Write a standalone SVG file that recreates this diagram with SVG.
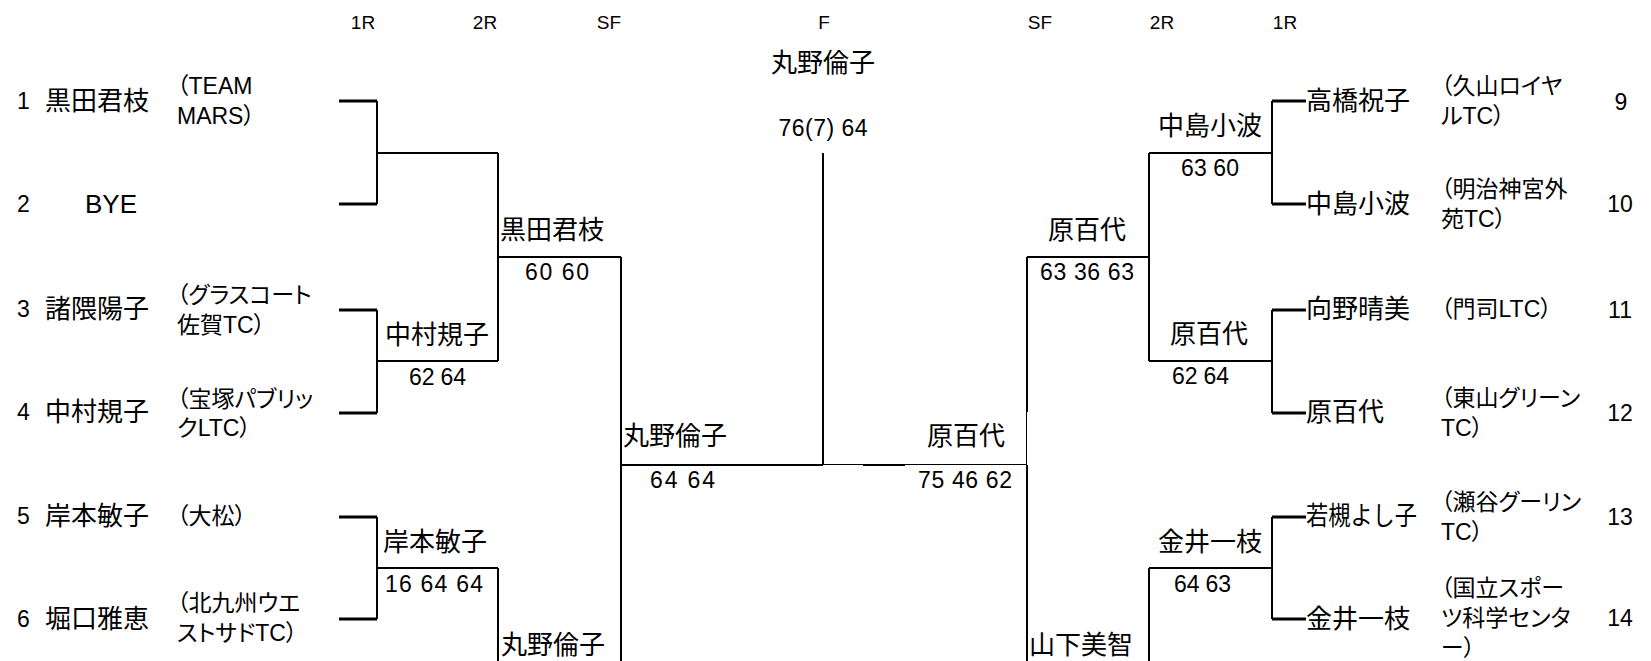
<svg xmlns="http://www.w3.org/2000/svg" width="1651" height="661" viewBox="0 0 1651 661">
<style>
text{font-family:"Liberation Sans","Noto Sans CJK JP",sans-serif;fill:#000;dominant-baseline:central}
.hdr{font-size:19px;text-anchor:middle}
.num{font-size:23px}
.numr{font-size:23px;text-anchor:middle}
.nm{font-size:26px}
.mid{text-anchor:middle}
.club{font-size:23px;font-feature-settings:"palt"}
.sc{font-size:23px}
.ln{stroke:#000;stroke-width:2;fill:none}
.stub{stroke:#000;stroke-width:3;fill:none}
.thin{stroke:#000;stroke-width:1;fill:none}
</style>
<rect width="1651" height="661" fill="#fff"/>
<g id="headers">
<text class="hdr" x="363" y="22">1R</text>
<text class="hdr" x="485" y="22">2R</text>
<text class="hdr" x="609" y="22">SF</text>
<text class="hdr" x="824" y="22">F</text>
<text class="hdr" x="1040" y="22">SF</text>
<text class="hdr" x="1162" y="22">2R</text>
<text class="hdr" x="1285" y="22">1R</text>
</g>
<g id="connectors">
<path class="stub" d="M339 101H377M339 204H377M339 310H377M339 413H377M339 517H377M339 619H377"/>
<path class="ln" d="M377 101V204M377 310V413M377 517V619M377 153H498M377 361H498M377 568H498M498 153V361M498 568V661M498 257H621M621 257V661M621 465H823"/>
<path class="ln" d="M823 153V465"/>
<path class="stub" d="M1272 101H1306M1272 204H1306M1272 310H1306M1272 413H1306M1272 517H1306M1272 619H1306"/>
<path class="ln" d="M1272 101V204M1272 310V413M1272 517V619M1149 153H1272M1149 361H1272M1149 568H1272M1149 153V361M1149 568V661M1027 257H1149M1027 257V412M1027 465V661"/>
<path class="thin" d="M1026.5 412V465M823 464.5H1027"/>
<path class="ln" d="M863 465H905"/>
</g>
<g id="final">
<text class="nm mid" x="823" y="63">丸野倫子</text>
<text class="sc mid" x="823" y="128" textLength="89" lengthAdjust="spacing">76(7) 64</text>
</g>
<g id="p1"><text class="num" x="17" y="101">1</text><text class="nm" x="45" y="101">黒田君枝</text><text class="club" x="177" y="86">（TEAM</text><text class="club" x="177" y="116">MARS）</text></g>
<g id="p2"><text class="num" x="17" y="204">2</text><text class="nm mid" x="111" y="204">BYE</text></g>
<g id="p3"><text class="num" x="17" y="309">3</text><text class="nm" x="45" y="309">諸隈陽子</text><text class="club" x="177" y="295">（グラスコート</text><text class="club" x="177" y="325">佐賀TC）</text></g>
<g id="p4"><text class="num" x="17" y="412">4</text><text class="nm" x="45" y="412">中村規子</text><text class="club" x="177" y="399">（宝塚パブリッ</text><text class="club" x="177" y="428">クLTC）</text></g>
<g id="p5"><text class="num" x="17" y="516">5</text><text class="nm" x="45" y="516">岸本敏子</text><text class="club" x="177" y="516">（大松）</text></g>
<g id="p6"><text class="num" x="17" y="619">6</text><text class="nm" x="45" y="619">堀口雅恵</text><text class="club" x="177" y="603">（北九州ウエ</text><text class="club" x="177" y="633">ストサドTC）</text></g>
<g id="m-l2r-1"><text class="nm" x="500" y="230">黒田君枝</text><text class="sc" x="525" y="272" textLength="64" lengthAdjust="spacing">60 60</text></g>
<g id="m-l1r-2"><text class="nm" x="385" y="335">中村規子</text><text class="sc" x="409" y="377" textLength="57" lengthAdjust="spacing">62 64</text></g>
<g id="m-l1r-3"><text class="nm" x="383" y="542">岸本敏子</text><text class="sc" x="385" y="584" textLength="98" lengthAdjust="spacing">16 64 64</text></g>
<g id="m-l2r-2"><text class="nm" x="501" y="645">丸野倫子</text></g>
<g id="m-lsf"><text class="nm" x="623" y="436">丸野倫子</text><text class="sc" x="650" y="480" textLength="65" lengthAdjust="spacing">64 64</text></g>
<g id="m-rsf"><text class="nm" x="927" y="436">原百代</text><text class="sc" x="918" y="480" textLength="94" lengthAdjust="spacing">75 46 62</text></g>
<g id="m-r2r-1"><text class="nm" x="1048" y="230">原百代</text><text class="sc" x="1040" y="272" textLength="94" lengthAdjust="spacing">63 36 63</text></g>
<g id="m-r2r-2"><text class="nm" x="1029" y="645">山下美智</text></g>
<g id="m-r1r-1"><text class="nm" x="1158" y="126">中島小波</text><text class="sc" x="1181" y="168" textLength="58" lengthAdjust="spacing">63 60</text></g>
<g id="m-r1r-2"><text class="nm" x="1170" y="334">原百代</text><text class="sc" x="1172" y="376" textLength="57" lengthAdjust="spacing">62 64</text></g>
<g id="m-r1r-3"><text class="nm" x="1158" y="542">金井一枝</text><text class="sc" x="1174" y="584" textLength="57" lengthAdjust="spacing">64 63</text></g>
<g id="p9"><text class="nm" x="1306" y="101">高橋祝子</text><text class="club" x="1441" y="86">（久山ロイヤ</text><text class="club" x="1441" y="116">ルTC）</text><text class="numr" x="1621" y="102">9</text></g>
<g id="p10"><text class="nm" x="1306" y="204">中島小波</text><text class="club" x="1441" y="189">（明治神宮外</text><text class="club" x="1441" y="219">苑TC）</text><text class="numr" x="1620" y="204">10</text></g>
<g id="p11"><text class="nm" x="1306" y="309">向野晴美</text><text class="club" x="1441" y="309">（門司LTC）</text><text class="numr" x="1620" y="310">11</text></g>
<g id="p12"><text class="nm" x="1306" y="412">原百代</text><text class="club" x="1441" y="398">（東山グリーン</text><text class="club" x="1441" y="428">TC）</text><text class="numr" x="1620" y="413">12</text></g>
<g id="p13"><text class="nm" x="1306" y="516" textLength="111" lengthAdjust="spacingAndGlyphs">若槻よし子</text><text class="club" x="1441" y="502">（瀬谷グーリン</text><text class="club" x="1441" y="532">TC）</text><text class="numr" x="1620" y="517">13</text></g>
<g id="p14"><text class="nm" x="1306" y="619">金井一枝</text><text class="club" x="1441" y="588">（国立スポー</text><text class="club" x="1441" y="618">ツ科学センタ</text><text class="club" x="1441" y="648">ー）</text><text class="numr" x="1620" y="618">14</text></g>
</svg>
